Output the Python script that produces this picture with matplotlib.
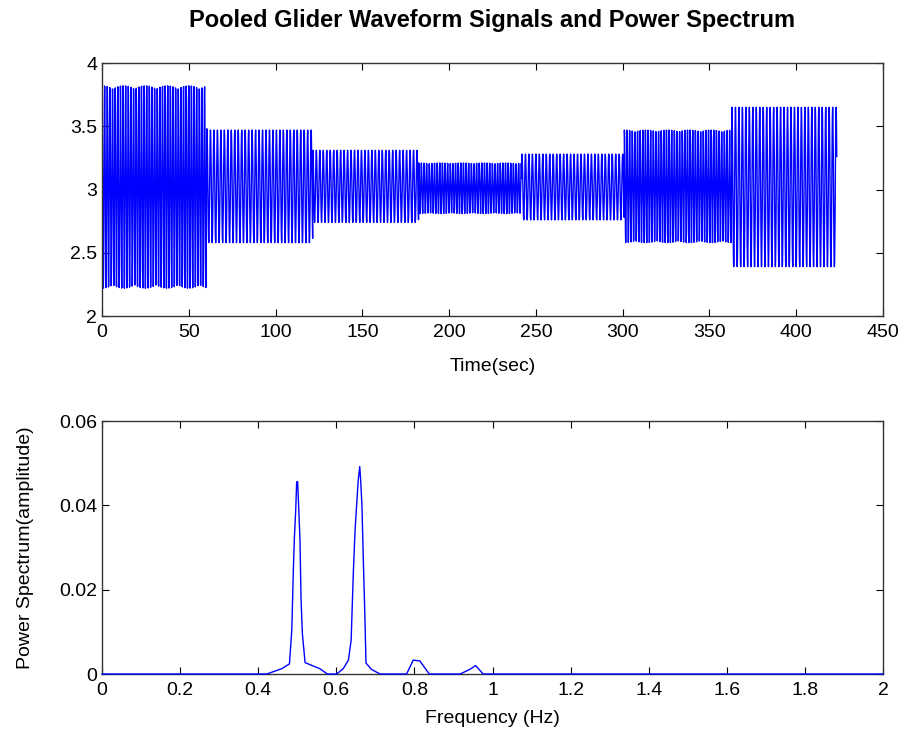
import numpy as np
import matplotlib
matplotlib.use("Agg")
import matplotlib.pyplot as plt

# pooled waveform: one segment per glider record (time in sec, level limits)
seg_start = [0, 60.5, 121.5, 182.5, 242, 301, 363]
seg_end = [60.5, 121.5, 182.5, 242, 301, 363, 423.5]
seg_low = [2.22, 2.58, 2.74, 2.81, 2.76, 2.58, 2.39]
seg_high = [3.82, 3.47, 3.31, 3.21, 3.28, 3.47, 3.65]
seg_freq = [0.66, 0.5, 0.5, 0.66, 0.5, 0.66, 0.5]   # Hz
fs = 8.0  # sample rate, Hz

# power spectrum
freq_hz = [0, 0.422, 0.46, 0.48, 0.486, 0.49, 0.4925, 0.496, 0.4985, 0.501,
           0.504, 0.507, 0.5096, 0.513, 0.52, 0.558, 0.577, 0.601, 0.618,
           0.631, 0.638, 0.6435, 0.648, 0.652, 0.656, 0.66, 0.6625, 0.6658,
           0.669, 0.673, 0.676, 0.69, 0.712, 0.78, 0.797, 0.814, 0.838,
           0.917, 0.942, 0.957, 0.976, 2.0]
power = [0, 0, 0.00125, 0.0024, 0.0104, 0.0246, 0.032, 0.0387, 0.0456, 0.0456,
         0.0387, 0.0317, 0.018, 0.0097, 0.0027, 0.00125, 0, 0, 0.0013,
         0.0033, 0.008, 0.0238, 0.034, 0.040, 0.0458, 0.0492, 0.0458, 0.0395,
         0.0277, 0.0144, 0.0026, 0.0011, 0, 0, 0.0033, 0.0031, 0,
         0, 0.0011, 0.002, 0, 0]

t_all, y_all = [], []
for t0, t1, lo, hi, f in zip(seg_start, seg_end, seg_low, seg_high, seg_freq):
    t = np.arange(t0, t1, 1 / fs)
    mid = (lo + hi) / 2
    amp = (hi - lo) / 2
    t_all.append(t)
    y_all.append(mid + amp * np.sin(2 * np.pi * f * (t - t0) + np.pi / 2))
t_all = np.concatenate(t_all)
y_all = np.concatenate(y_all)

fig = plt.figure(figsize=(9.06, 7.38), dpi=100)
ax1 = fig.add_axes([0.1126, 0.5718, 0.862, 0.3428])
ax2 = fig.add_axes([0.1126, 0.0867, 0.862, 0.3428])

reg = ["Liberation Sans", "DejaVu Sans"]

ax1.plot(t_all, y_all, color="#0000ff", lw=1.0)
ax1.set_xlim(0, 450)
ax1.set_ylim(2, 4)
ax1.set_xticks(np.arange(0, 451, 50))
ax1.set_yticks([2, 2.5, 3, 3.5, 4])
ax1.set_yticklabels(["2", "2.5", "3", "3.5", "4"])
ax1.set_xlabel("Time(sec)", family=reg, fontsize=14, labelpad=12)
fig.suptitle("Pooled Glider Waveform Signals and Power Spectrum",
             family=reg, fontweight="bold", fontsize=17, x=0.543, y=0.988)

ax2.plot(freq_hz, power, color="#0000ff", lw=1, zorder=3, clip_on=False)
ax2.set_xlim(0, 2)
ax2.set_ylim(0, 0.06)
ax2.set_xticks(np.arange(0, 2.01, 0.2))
ax2.set_xticklabels(["0", "0.2", "0.4", "0.6", "0.8", "1", "1.2", "1.4",
                     "1.6", "1.8", "2"])
ax2.set_yticks([0, 0.02, 0.04, 0.06])
ax2.set_yticklabels(["0", "0.02", "0.04", "0.06"])
ax2.set_xlabel("Frequency (Hz)", family=reg, fontsize=14, labelpad=8)
ax2.set_ylabel("Power Spectrum(amplitude)", family=reg, fontsize=14, labelpad=18)

for ax in (ax1, ax2):
    for lab in ax.get_xticklabels() + ax.get_yticklabels():
        lab.set_family(reg)
        lab.set_fontsize(14)
    ax.tick_params(axis="x", pad=6)
    ax.tick_params(direction="in", length=5, width=0.8, top=True, right=True,
                   colors="black")
    for s in ax.spines.values():
        s.set_linewidth(1)
        s.set_color("#333333")

fig.savefig("out.png", dpi=100)
